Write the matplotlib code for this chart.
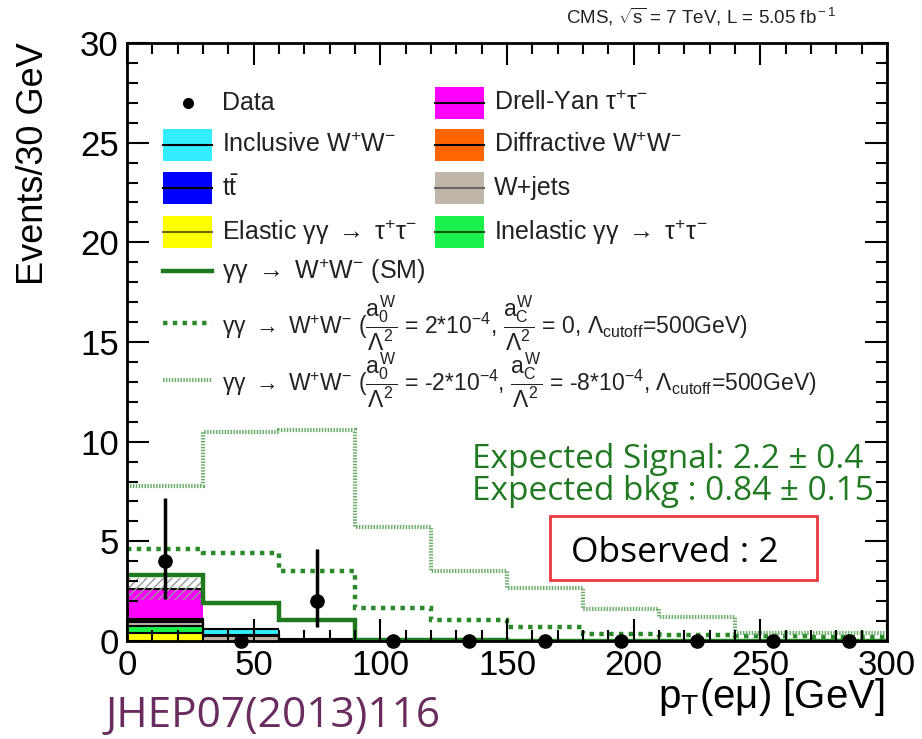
import numpy as np
import matplotlib.pyplot as plt
from matplotlib.patches import Rectangle
from matplotlib.lines import Line2D

plt.rcParams['font.family'] = ['Liberation Sans', 'DejaVu Sans']
plt.rcParams['mathtext.fontset'] = 'custom'
plt.rcParams['mathtext.rm'] = 'Liberation Sans'
plt.rcParams['mathtext.it'] = 'Liberation Sans'
plt.rcParams['mathtext.bf'] = 'Liberation Sans:bold'
plt.rcParams['hatch.linewidth'] = 1.0

# pT(e mu) binning, 30 GeV bins
edges = np.arange(0, 301, 30)
centers = edges[:-1] + 15

# background stack (bottom -> top)
elastic = np.array([0.38, 0, 0, 0, 0, 0, 0, 0, 0, 0])
inelastic = np.array([0.35, 0, 0, 0, 0, 0, 0, 0, 0, 0])
wjets = np.array([0.22, 0.25, 0.04, 0, 0, 0, 0, 0, 0, 0])
ttbar = np.array([0.05, 0.06, 0.06, 0, 0, 0, 0, 0, 0, 0])
diffractive = np.array([0.03, 0.0, 0.0, 0, 0, 0, 0, 0, 0, 0])
inclusive = np.array([0.05, 0.3, 0.0, 0, 0, 0, 0, 0, 0, 0])
drellyan = np.array([1.55, 0, 0, 0, 0, 0, 0, 0, 0, 0])

# uncertainty band on the stack
band_lo = np.array([2.05, 0, 0, 0, 0, 0, 0, 0, 0, 0])
band_hi = np.array([3.15, 0, 0, 0, 0, 0, 0, 0, 0, 0])

# signal curves
sm = np.array([3.3, 1.9, 1.05, 0.05, 0.03, 0.02, 0.02, 0.01, 0.01, 0.01])
aqgc1 = np.array([4.6, 4.4, 3.5, 1.65, 1.05, 0.7, 0.35, 0.3, 0.25, 0.2])
aqgc2 = np.array([7.8, 10.5, 10.6, 5.7, 3.5, 2.65, 1.6, 1.2, 0.4, 0.4])

# data
data = np.array([4, 0, 2, 0, 0, 0, 0, 0, 0, 0])
err_lo = np.array([1.91, 0, 1.29, 0, 0, 0, 0, 0, 0, 0])
err_hi = np.array([3.16, 0, 2.64, 0, 0, 0, 0, 0, 0, 0])

stack = [
    (elastic, '#ffff00'),
    (inelastic, '#19f24a'),
    (wjets, '#bfb5a8'),
    (ttbar, '#0000ff'),
    (diffractive, '#ff6600'),
    (inclusive, '#33eeff'),
    (drellyan, '#ff00ff'),
]

W, H = 922, 739
fig = plt.figure(figsize=(W / 100, H / 100), dpi=100)
ax = fig.add_axes([127 / W, 1 - 641 / H, 760 / W, 598 / H])

def fx(x):
    return x / W

def fy(y):
    return 1 - y / H

bottom = np.zeros(len(centers))
for vals, col in stack:
    top = bottom + vals
    ax.stairs(top, edges, baseline=bottom, fill=True, color=col, lw=0)
    bottom = top
bottom = np.zeros(len(centers))
for vals, col in stack:
    bottom = bottom + vals
    mask = vals > 0
    ax.stairs(np.where(mask, bottom, np.nan), edges, baseline=None, color='k', lw=1.5)

ax.bar(centers, band_hi - band_lo, width=30, bottom=band_lo, facecolor='none',
       edgecolor='#9a9a9a', hatch='////', linewidth=0)

ax.stairs(sm, edges, baseline=None, color='#1f7a1f', lw=3.2)
ax.stairs(aqgc1, edges, baseline=None, color='#2a8a2a', lw=3.2, linestyle=(0, (1, 1.2)))
ax.stairs(aqgc2, edges, baseline=None, color='#6aad6a', lw=3.0, linestyle=(0, (0.35, 0.35)))

ax.errorbar(centers, data, yerr=[err_lo, err_hi], fmt='o', color='k', ms=9.5,
            elinewidth=2.5, capsize=0, clip_on=False, zorder=5)

ax.set_xlim(0, 300)
ax.set_ylim(0, 30)
ax.set_xticks(np.arange(0, 301, 50))
ax.set_xticks(np.arange(0, 301, 10), minor=True)
ax.set_yticks(np.arange(0, 31, 5))
ax.set_yticks(np.arange(0, 31, 1), minor=True)
ax.tick_params(which='both', direction='in', top=True, right=True, width=1.5)
ax.tick_params(which='major', length=16, labelsize=25, pad=6)
ax.tick_params(which='minor', length=8)
for s in ax.spines.values():
    s.set_linewidth(2)

fig.text(fx(34), fy(42), 'Events/30 GeV', fontsize=26, rotation=90, ha='center', va='top')
fig.text(fx(885), fy(697), r'p$_{\rm T}$(e$\mu$) [GeV]', fontsize=29, ha='right', va='center')

fig.text(fx(836), fy(17), r'CMS, $\sqrt{\rm s}$ = 7 TeV, L = 5.05 fb$^{\rm -1}$',
         fontsize=13.5, ha='right', va='center', color='#222222')

arrow = r'$\rightarrow$'

# legend, hand placed like the original
leg_fs = 18
box_w, box_h = 49, 31
col_x = [163, 435]
rows_y = [103, 145, 188, 232]
entries = [
    (0, 0, None, None, 'Data'),
    (0, 1, '#33eeff', '#000000', r'Inclusive W$^{+}$W$^{-}$'),
    (0, 2, '#0000ff', '#000000', r't$\bar{\rm t}$'),
    (0, 3, '#ffff00', '#6b6b00', 'Elastic γγ ' + arrow + r' τ$^{+}$τ$^{-}$'),
    (1, 0, '#ff00ff', '#000000', r'Drell-Yan τ$^{+}$τ$^{-}$'),
    (1, 1, '#ff6600', '#000000', r'Diffractive W$^{+}$W$^{-}$'),
    (1, 2, '#bfb5a8', '#666666', 'W+jets'),
    (1, 3, '#19f24a', '#0a5a0a', 'Inelastic γγ ' + arrow + r' τ$^{+}$τ$^{-}$'),
]
for c, r, fc, lc, lab in entries:
    x0 = col_x[c]
    y0 = rows_y[r]
    if fc is None:
        fig.add_artist(Line2D([fx(x0 + box_w / 2)], [fy(y0)], marker='o', color='k', ms=7,
                              transform=fig.transFigure))
    else:
        fig.add_artist(Rectangle((fx(x0), fy(y0 + box_h / 2)), box_w / W, box_h / H,
                                 facecolor=fc, edgecolor='none', transform=fig.transFigure))
        fig.add_artist(Line2D([fx(x0), fx(x0 + box_w)], [fy(y0), fy(y0)], color=lc, lw=1.5,
                              transform=fig.transFigure))
    fig.text(fx(x0 + 59), fy(y0), lab, fontsize=leg_fs, ha='left', va='center', color='#222222')

line_rows = [
    (271, '#1f7a1f', 3.2, '-', 18, 'γγ ' + arrow + r' W$^{+}$W$^{-}$ (SM)'),
    (323, '#2a8a2a', 3.2, (0, (1, 1.2)), 16.5,
     'γγ ' + arrow + r' W$^{+}$W$^{-}$ ($\dfrac{a_0^W}{\Lambda^2}$ = 2*10$^{-4}$, '
     r'$\dfrac{a_C^W}{\Lambda^2}$ = 0, Λ$_{\rm cutoff}$=500GeV)'),
    (380, '#6aad6a', 3.0, (0, (0.35, 0.35)), 16.5,
     'γγ ' + arrow + r' W$^{+}$W$^{-}$ ($\dfrac{a_0^W}{\Lambda^2}$ = -2*10$^{-4}$, '
     r'$\dfrac{a_C^W}{\Lambda^2}$ = -8*10$^{-4}$, Λ$_{\rm cutoff}$=500GeV)'),
]
for y0, col, lw, ls, fs, lab in line_rows:
    fig.add_artist(Line2D([fx(163), fx(163 + box_w)], [fy(y0), fy(y0)], color=col, lw=lw,
                          linestyle=ls, transform=fig.transFigure))
    fig.text(fx(222), fy(y0), lab, fontsize=fs, ha='left', va='center', color='#222222')

# summary numbers
green = '#217a21'
fig.text(fx(472), fy(468), 'Expected Signal: 2.2 \u00b1 0.4', fontsize=24, family='Open Sans',
         color=green, ha='left', va='baseline')
fig.text(fx(472), fy(500), 'Expected bkg : 0.84 \u00b1 0.15', fontsize=24, family='Open Sans',
         color=green, ha='left', va='baseline')
fig.add_artist(Rectangle((fx(550), fy(580)), 267 / W, 64 / H, facecolor='white',
                         edgecolor='#e8393f', lw=2, transform=fig.transFigure))
fig.text(fx(675), fy(562), 'Observed : 2', fontsize=25.5, family='Open Sans', color='black',
         ha='center', va='baseline')

fig.text(fx(105), fy(727), 'JHEP07(2013)116', fontsize=30.5, family='Open Sans',
         color='#6a2c5e', ha='left', va='baseline')

fig.savefig('out.png', dpi=100)
